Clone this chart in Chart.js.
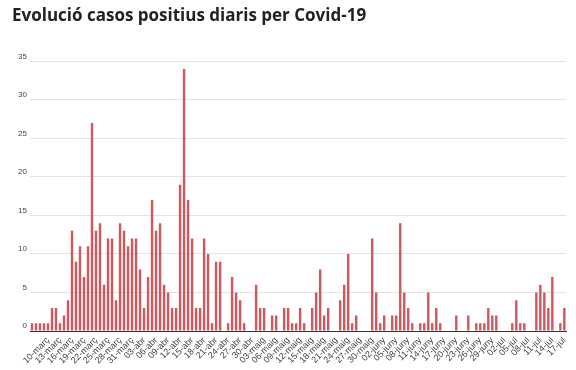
<!DOCTYPE html>
<html>
<head>
<meta charset="utf-8">
<script src="https://cdn.jsdelivr.net/npm/chart.js@4.4.0/dist/chart.umd.min.js"></script>
<style>
  html, body { margin: 0; padding: 0; background: #fff; }
  #wrap { width: 576px; height: 370px; }
</style>
</head>
<body>
<div id="wrap"><canvas id="barChart" width="576" height="370"></canvas></div>
<script>
// casos positius per dia, del 06-març al 17-jul
var startDay = 6;
var monthNames = ["març", "abr", "maig", "juny", "jul"];
var monthDays = [31, 30, 31, 30, 31];

var cases = [
    1, 1, 1, 1, 1, 3, 3, 1, 2, 4, 13, 9, 11, 7, 11, 27, 13, 14, 6, 12,
    12, 4, 14, 13, 11, 12, 12, 8, 3, 7, 17, 13, 14, 6, 5,
    3, 3, 19, 34, 17, 12, 3, 3, 12, 10, 1, 9, 9, 0, 1, 7, 5, 4, 1, 0,
    0, 6, 3, 3, 0, 2, 2, 0, 3, 3, 1, 1, 3, 1,
    0, 3, 5, 8, 2, 3, 0, 0, 4, 6, 10, 1, 2, 0, 0, 0, 12, 5, 1, 2,
    0, 2, 2, 14, 5, 3, 1, 0, 1, 1, 5, 1, 3, 1,
    0, 0, 0, 2, 0, 0, 2, 0, 1, 1, 1, 3, 2, 2, 0, 0, 0, 1, 4, 1,
    1, 0, 0, 5, 6, 5, 3, 7, 0, 1, 3
];

var yTicks = [0, 5, 10, 15, 20, 25, 30, 35];

// etiquetes de dia: "06-març", "07-març", ...
var labels = [];
var m = 0, d = startDay;
for (var i = 0; i < cases.length; i++) {
    labels.push((d < 10 ? "0" + d : "" + d) + "-" + monthNames[m]);
    d++;
    if (d > monthDays[m]) { d = 1; m++; }
}

var barData = {
    labels: labels,
    datasets: [
        {
            label: "Casos positius",
            backgroundColor: "#d4555b",
            borderWidth: 0,
            barPercentage: 0.6,
            categoryPercentage: 1.0,
            data: cases
        }
    ]
};

var barOptions = {
    responsive: false,
    animation: false,
    layout: { padding: { left: 12, right: 5, top: 0, bottom: 0 } },
    plugins: {
        legend: { display: false },
        tooltip: { enabled: false },
        title: {
            display: true,
            text: "Evolució casos positius diaris per Covid-19",
            align: "start",
            color: "#222",
            font: { family: "'Open Sans'", size: 17, weight: "bold" },
            padding: { top: 6, bottom: 35 }
        }
    },
    scales: {
        x: {
            grid: { display: false, drawTicks: false },
            border: { display: true, color: "#333", width: 1 },
            afterFit: function (scale) { scale.height = 39; },
            ticks: {
                autoSkip: false,
                minRotation: 45,
                maxRotation: 45,
                padding: 4,
                color: "#444",
                font: { family: "'Liberation Sans', Arial", size: 9 },
                callback: function (value, index) {
                    return (index - 4) % 3 === 0 && index >= 4 ? labels[index] : "";
                }
            }
        },
        y: {
            min: 0,
            max: 35,
            afterFit: function (scale) { scale.width = 18; },
            afterBuildTicks: function (scale) {
                scale.ticks = yTicks.map(function (v) { return { value: v }; });
            },
            grid: { color: "#e3e3e3", drawTicks: false },
            border: { display: false },
            ticks: {
                padding: 3,
                labelOffset: -5,
                color: "#444",
                font: { family: "'Liberation Sans', Arial", size: 8 }
            }
        }
    }
};

var ctx = document.getElementById("barChart").getContext("2d");
new Chart(ctx, { type: "bar", data: barData, options: barOptions });
</script>
</body>
</html>
